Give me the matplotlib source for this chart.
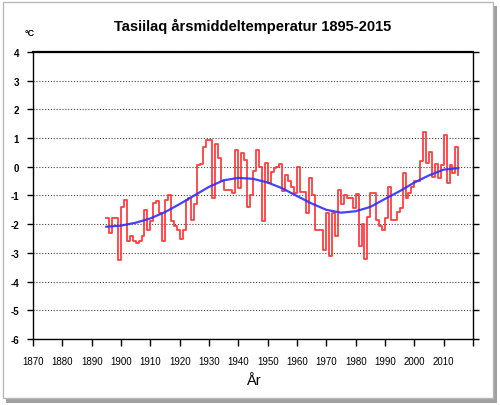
import numpy as np
import matplotlib
matplotlib.use('Agg')
import matplotlib.pyplot as plt
from matplotlib.patches import Rectangle

plt.rcParams['font.family'] = ['Liberation Sans', 'DejaVu Sans']

# annual mean temperature, Tasiilaq 1895-2015
years = np.arange(1895, 2016)
temps = [
    # 1895-1899
    -1.8, -2.3, -1.8, -1.8, -3.25,
    # 1900s
    -1.4, -1.15, -2.6, -2.4, -2.6, -2.65, -2.6, -2.4, -1.5, -2.2,
    # 1910s
    -1.9, -1.25, -1.2, -1.6, -2.6, -1.15, -1.0, -1.9, -2.05, -2.2,
    # 1920s
    -2.5, -2.2, -1.15, -1.1, -1.85, -1.3, 0.05, 0.1, 0.7, 0.93,
    # 1930s
    0.93, -1.1, 0.8, 0.3, -0.5, -0.8, -0.8, -0.8, -0.9, 0.58,
    # 1940s
    -0.75, 0.47, 0.25, -1.4, -1.0, -0.15, 0.6, 0.0, -1.9, 0.12,
    # 1950s
    -0.58, -0.17, -0.06, 0.0, 0.1, -0.85, -0.3, -0.5, -0.7, -0.9,
    # 1960s
    0.0, -0.87, -0.87, -1.6, -0.4, -1.0, -2.2, -2.2, -2.2, -2.9,
    # 1970s
    -1.6, -3.1, -1.6, -2.4, -0.8, -1.3, -1.0, -1.1, -1.1, -1.45,
    # 1980s
    -0.95, -2.75, -2.0, -3.2, -1.75, -0.92, -0.92, -1.86, -2.05, -2.2,
    # 1990s
    -1.8, -0.7, -1.86, -1.86, -1.57, -1.45, -0.23, -1.1, -0.92, -0.72,
    # 2000s
    -0.48, -0.48, 0.2, 1.2, 0.12, 0.5, -0.35, 0.08, -0.38, 0.05,
    # 2010s
    1.1, -0.58, 0.06, -0.2, 0.68, -0.3,
]

# smooth trend curve (blue), read every 5 years
trend_years = np.arange(1895, 2020, 5)
trend = [-2.09, -2.05, -1.95, -1.8, -1.58, -1.3, -1.0, -0.7, -0.47, -0.39,
         -0.42, -0.55, -0.75, -1.02, -1.28, -1.5, -1.6, -1.55, -1.4, -1.12,
         -0.85, -0.55, -0.3, -0.1, -0.05]

xticks = np.arange(1870, 2030, 10)
xlabels = [str(y) for y in xticks[:-1]] + ['']
yticks = np.arange(-6, 5)

fig = plt.figure(figsize=(5.0, 4.06), dpi=100)
# window frame with drop shadow
fig.patches.append(Rectangle((6 / 500, 1 - 404 / 406), 491 / 500, 397 / 406,
                             transform=fig.transFigure, facecolor='#a0a0a0',
                             edgecolor='none', zorder=-2))
fig.patches.append(Rectangle((3 / 500, 1 - 399 / 406), 490 / 500, 396 / 406,
                             transform=fig.transFigure, facecolor='white',
                             edgecolor='#b8b8b8', lw=1, zorder=-1))

ax = fig.add_axes([0.066, 0.1626, 0.88, 0.707])
ax.grid(axis='y', linestyle=(0, (1, 1.6)), color='#444444', lw=0.8)
ax.set_axisbelow(True)

ax.step(years, temps, where='post', color='#ff2a2a', lw=1.3, alpha=0.9)
ax.plot(trend_years, trend, color='#2f2fff', lw=1.6, alpha=0.9)

ax.set_xlim(1870, 2020)
ax.set_ylim(-6, 4)
ax.set_xticks(xticks)
ax.set_xticklabels(xlabels, fontsize=7)
ax.set_yticks(yticks)
ax.set_yticklabels([str(v) for v in yticks], fontsize=7, fontweight='bold')
ax.tick_params(axis='x', direction='out', length=5, width=1, pad=7)
ax.tick_params(axis='y', direction='out', length=4, width=1, pad=6,
               right=True)
for s in ax.spines.values():
    s.set_linewidth(1.0)
ax.spines['top'].set_linewidth(1.6)

ax.set_xlabel('År', fontsize=10.5, labelpad=5)
fig.text(0.505, 1 - 26 / 406, 'Tasiilaq årsmiddeltemperatur 1895-2015',
         ha='center', va='center', fontsize=10.5, fontweight='bold')
fig.text(30 / 500, 1 - 34 / 406, '°C', ha='center', va='center',
         fontsize=6.5, fontweight='bold')

fig.savefig('out.png', dpi=100, facecolor='white')
